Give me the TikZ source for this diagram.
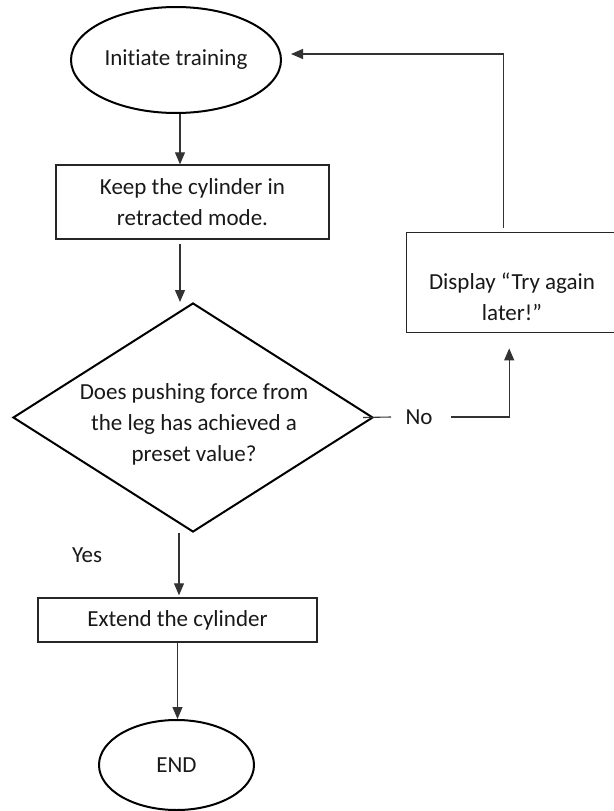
\documentclass[tikz,border=0pt]{standalone}
\usepackage{fontspec}
\setmainfont{Carlito}[Ligatures=NoCommon]
\usetikzlibrary{shapes.geometric,arrows.meta}

\begin{document}
\begin{tikzpicture}[x=1pt,y=-1pt,
  every node/.style={font=\fontsize{23}{31}\selectfont, text=black!90, inner sep=0pt},
  term/.style={ellipse, draw=black, line width=2pt},
  box/.style={rectangle, draw=black!85, line width=1.4pt},
  decision/.style={diamond, draw=black, line width=2pt},
  flow/.style={draw=black!80, line width=1.1pt},
  arr/.style={flow, -{Triangle[length=12pt,width=10pt]}},
  txt/.style={align=center}]

\useasboundingbox (0,0) rectangle (613,811);
\fill[white] (0,0) rectangle (613,811);

% main column
\node[term, minimum width=210pt, minimum height=106pt] (init) at (176,60) {Initiate training};
\node[box, minimum width=273pt, minimum height=74pt, txt] (keep) at (192.5,202) {Keep the cylinder in\\retracted mode.};
\node[decision, minimum width=360pt, minimum height=229pt] (dec) at (193,417.5) {};
\node[txt] (q) at (194,424) {Does pushing force from\\the leg has achieved a\\preset value?};
\node[box, minimum width=279pt, minimum height=44pt] (ext) at (177.5,620) {Extend the cylinder};
\node[term, minimum width=155pt, minimum height=90pt] (end) at (176.5,765) {END};

% retry branch
\node[box, anchor=north west, minimum width=212pt, minimum height=100pt] (disp) at (406,232) {};
\node[txt] (msg) at (512,297) {Display “Try again\\later!”};

% branch labels
\node (no) at (419,417) {No};
\node (yes) at (87,555) {Yes};

% connectors
\draw[arr] ([xshift=4pt]init.south) -- ([xshift=4pt]init.south |- keep.north);
\draw[arr] ([xshift=-12.5pt,yshift=-4pt]keep.south) -- ([xshift=-12.5pt]keep.south |- dec.north);
\draw[arr, shorten >=2pt] ([xshift=-14pt]dec.south) -- ([xshift=-14pt]dec.south |- ext.north);
\draw[arr] (ext.south) -- (ext.south |- end.north);
\draw[flow] ([xshift=-11pt]dec.east) -- ([xshift=-28pt]no.center);
\draw[arr, shorten >=15pt] ([xshift=32pt]no.center) -| ([xshift=-3.5pt]disp.south);
\draw[arr] ([xshift=-9pt,yshift=4pt]disp.north) |- ([xshift=9pt,yshift=6pt]init.east);

\end{tikzpicture}
\end{document}
